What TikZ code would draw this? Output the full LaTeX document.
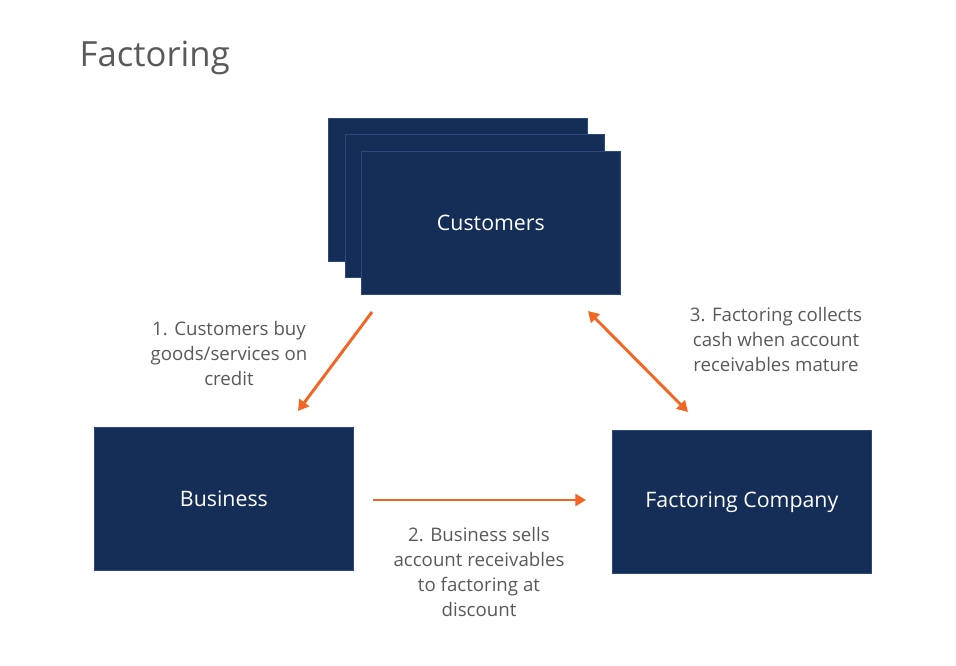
\documentclass[tikz,border=0pt]{standalone}
\usepackage{fontspec}
\setmainfont{Open Sans}
\usetikzlibrary{arrows.meta}
\definecolor{navy}{HTML}{152E57}
\definecolor{edge}{HTML}{2A4A7A}
\definecolor{org}{HTML}{F26522}
\definecolor{txt}{HTML}{595959}
\begin{document}
\begin{tikzpicture}[x=0.75pt,y=-0.75pt,
 box/.style={draw=edge,fill=navy,line width=0.6pt,minimum width=194.25pt,minimum height=107.25pt,anchor=north west,text=white,font=\fontsize{16}{19}\selectfont,inner sep=0pt},
 lab/.style={text=txt,align=center,font=\fontsize{14}{18.75}\selectfont},
 arr/.style={draw=org,line width=2.2pt,-{Triangle[length=8pt,width=9pt]}}]
\useasboundingbox (0,0) rectangle (956,666);
\node[anchor=west,text=txt,font=\fontsize{26}{30}\selectfont] (title) at (75,58) {Factoring};
\node[box] (c1) at (328,118) {};
\node[box] (c2) at (345,134) {};
\node[box] (cust) at (361,151) {Customers};
\node[box] (bus) at (94,427) {Business};
\node[box] (fac) at (612,430) {Factoring Company};
\coordinate (a1s) at (372,312); \coordinate (a1e) at (298,411);
\coordinate (a2s) at (373,500); \coordinate (a2e) at (586,500);
\coordinate (a3s) at (588,311); \coordinate (a3e) at (688,412);
\draw[arr] (a1s) -- (a1e);
\draw[arr] (a2s) -- (a2e);
\draw[arr,{Triangle[length=8pt,width=9pt]}-{Triangle[length=8pt,width=9pt]}] (a3s) -- (a3e);
\node[lab] (l1) at (229,353) {1. Customers buy\\goods/services on\\credit};
\node[lab] (l2) at (479,572) {2. Business sells\\account receivables\\to factoring at\\discount};
\node[lab] (l3) at (776,340) {3. Factoring collects\\cash when account\\receivables mature};
\end{tikzpicture}
\end{document}
